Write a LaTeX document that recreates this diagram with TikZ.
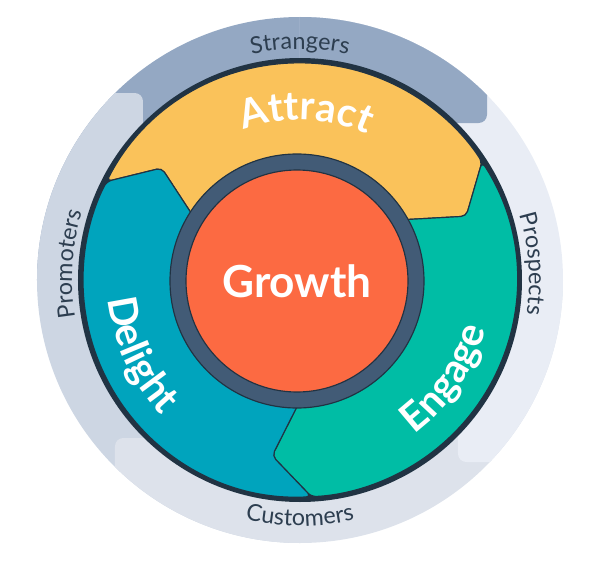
\documentclass[tikz,border=0pt]{standalone}
\usepackage{fontspec}
\setmainfont{Lato}
\usetikzlibrary{decorations.text}
\definecolor{strangers}{RGB}{148,168,195}
\definecolor{promoters}{RGB}{205,214,227}
\definecolor{customers}{RGB}{221,226,235}
\definecolor{prospects}{RGB}{233,237,245}
\definecolor{attract}{RGB}{250,194,90}
\definecolor{engage}{RGB}{0,189,165}
\definecolor{delight}{RGB}{0,164,189}
\definecolor{growth}{RGB}{252,106,66}
\definecolor{slate}{RGB}{66,91,118}
\definecolor{ringdark}{RGB}{33,51,67}
\definecolor{labeltext}{RGB}{45,62,80}

\begin{document}
\begin{tikzpicture}[x=0.6pt, y=0.6pt,
    band/.style={rounded corners=5pt},
    segment/.style={draw=ringdark, line width=0.7pt, rounded corners=3pt},
    seglabel/.style={decorate, decoration={text along path, text color=white, text align=center,
        text={|\fontsize{24}{24}\selectfont\bfseries|#1}}},
    bandlabel/.style={decorate, decoration={text along path, text color=labeltext, text align=center,
        text={|\fontsize{14}{14}\selectfont|#1}}}
]
    \useasboundingbox (-300,-289) rectangle (300,280);

    % outer band
    \begin{scope}
        \clip[band] (-300,0) -- (-300,300) -- (187,300) -- (187,157) -- (0,157) -- (0,0) -- cycle;
        \fill[strangers] (0,0) circle (263);
    \end{scope}
    \begin{scope}
        \clip[band] (-300,-300) -- (-300,187) -- (-157,187) -- (-157,0) -- (0,0) -- (0,-300) -- cycle;
        \fill[promoters] (0,0) circle (263);
    \end{scope}
    \begin{scope}
        \clip[band] (-185,-300) -- (-185,-158) -- (0,-158) -- (0,0) -- (300,0) -- (300,-300) -- cycle;
        \fill[customers] (0,0) circle (263);
    \end{scope}
    \begin{scope}
        \clip[band] (158,-182) -- (158,0) -- (0,0) -- (0,300) -- (300,300) -- (300,-182) -- cycle;
        \fill[prospects] (0,0) circle (263);
    \end{scope}
    \begin{scope}
        \clip[band] (0,157) rectangle (187,300);
        \fill[strangers] (0,0) circle (263);
    \end{scope}

    % flywheel
    \fill[ringdark] (0,0) circle (222);
    \fill[attract, segment] (153:217) arc[start angle=153, end angle=33, radius=217]
        -- (21:178) -- (32:113) arc[start angle=32, end angle=152, radius=113] -- (141:178) -- cycle;
    \fill[engage, segment] (33:217) arc[start angle=33, end angle=-87, radius=217]
        -- (-99:178) -- (-88:113) arc[start angle=-88, end angle=32, radius=113] -- (21:178) -- cycle;
    \fill[delight, segment] (273:217) arc[start angle=273, end angle=153, radius=217]
        -- (141:178) -- (152:113) arc[start angle=152, end angle=272, radius=113] -- (261:178) -- cycle;

    \fill[slate, draw=ringdark, line width=0.7pt] (-3,-1) circle (127);
    \fill[growth, draw=ringdark, line width=0.7pt] (-3,-1) circle (111);
    \node[text=white, font=\fontsize{26.5}{26.5}\selectfont\bfseries] (growthlbl) at (-3,-1) {Growth};

    \path[seglabel=Attract] (133:160) arc[start angle=133, end angle=43, radius=160];
    \path[seglabel=Delight] (165:193) arc[start angle=165, end angle=245, radius=193];
    \path[seglabel=Engage] (286:192) arc[start angle=286, end angle=366, radius=192];

    \path[bandlabel=Strangers] (120:231) arc[start angle=120, end angle=60, radius=231];
    \path[bandlabel=Customers] (240:246) arc[start angle=240, end angle=300, radius=246];
    \path[bandlabel=Promoters] (206:228) arc[start angle=206, end angle=146, radius=228];
    \path[bandlabel=Prospects] (34:229) arc[start angle=34, end angle=-26, radius=229];
\end{tikzpicture}
\end{document}
